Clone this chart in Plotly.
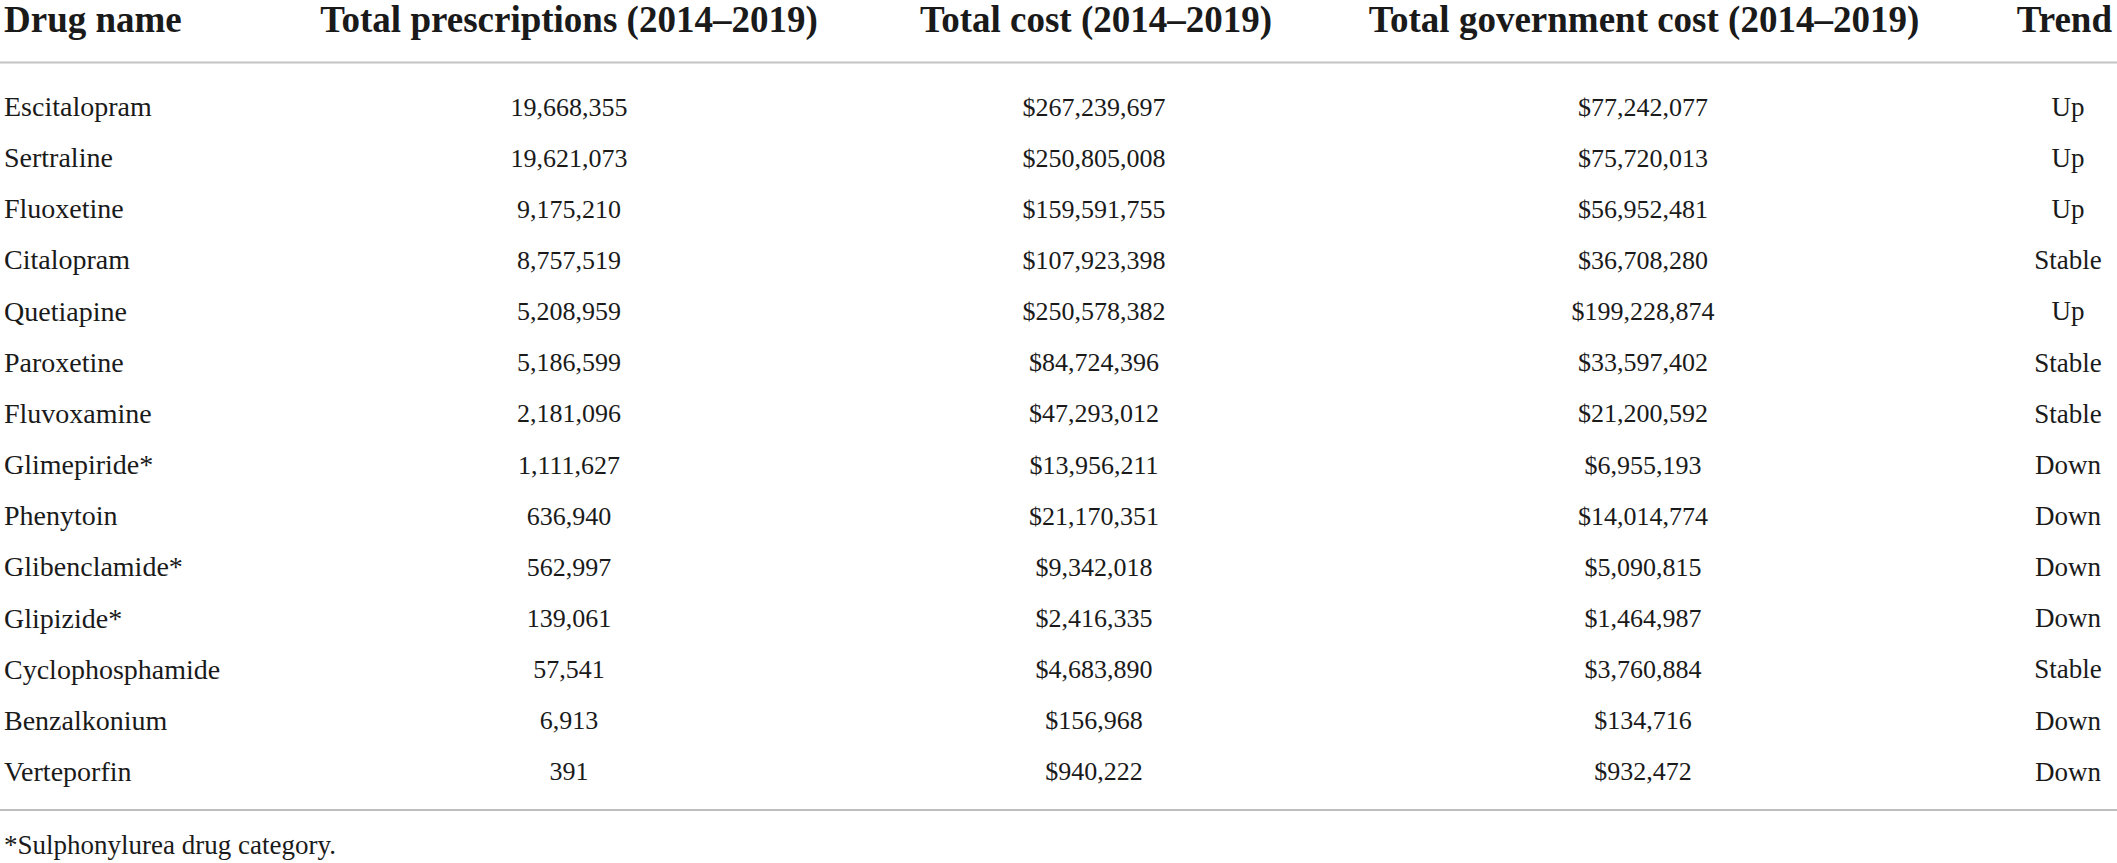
import plotly.graph_objects as go

# ---------------- data ----------------
headers = ["Drug name", "Total prescriptions (2014\u20132019)", "Total cost (2014\u20132019)",
           "Total government cost (2014\u20132019)", "Trend"]
drugs = ["Escitalopram", "Sertraline", "Fluoxetine", "Citalopram", "Quetiapine", "Paroxetine",
         "Fluvoxamine", "Glimepiride*", "Phenytoin", "Glibenclamide*", "Glipizide*",
         "Cyclophosphamide", "Benzalkonium", "Verteporfin"]
prescriptions = [19668355, 19621073, 9175210, 8757519, 5208959, 5186599, 2181096,
                 1111627, 636940, 562997, 139061, 57541, 6913, 391]
total_cost = [267239697, 250805008, 159591755, 107923398, 250578382, 84724396, 47293012,
              13956211, 21170351, 9342018, 2416335, 4683890, 156968, 940222]
gov_cost = [77242077, 75720013, 56952481, 36708280, 199228874, 33597402, 21200592,
            6955193, 14014774, 5090815, 1464987, 3760884, 134716, 932472]
trend = ["Up", "Up", "Up", "Stable", "Up", "Stable", "Stable", "Down", "Down", "Down",
         "Down", "Stable", "Down", "Down"]
footnote = "*Sulphonylurea drug category."

# ---------------- layout constants ----------------
W, H = 2117, 863
ROW0_PX, ROW_STEP_PX = 109, 51.15
def px_to_row(p):
    return (p - ROW0_PX) / ROW_STEP_PX

COL_X = [4, 569, 1094, 1643, 2068]
HEADER_X = [4, 569, 1096, 1644, 2112]
HEADER_Y = px_to_row(23)
TOP_LINE_Y = px_to_row(62.5)
BOT_LINE_Y = px_to_row(810)
FOOT_Y = px_to_row(847)

FONT = "Liberation Serif"
TXT = "#1a1a1a"
NAME_SIZE = 28
NUM_SIZE = 26
HEAD = 37

rows = list(range(len(drugs)))

fig = go.Figure()

# header
fig.add_trace(go.Scatter(
    x=HEADER_X, y=[HEADER_Y] * len(headers), mode="text",
    text=["<b>%s</b>" % h for h in headers],
    textposition=["middle right", "middle center", "middle center", "middle center", "middle left"],
    textfont=dict(family=FONT, size=HEAD, color=TXT),
    cliponaxis=False, hoverinfo="skip", showlegend=False))

# drug names (left aligned)
fig.add_trace(go.Scatter(
    x=[COL_X[0]] * len(drugs), y=rows, mode="text", text=drugs,
    textposition="middle right",
    textfont=dict(family=FONT, size=NAME_SIZE, color=TXT),
    cliponaxis=False, hoverinfo="skip", showlegend=False))

columns = [
    ["{:,}".format(v) for v in prescriptions],
    ["${:,}".format(v) for v in total_cost],
    ["${:,}".format(v) for v in gov_cost],
]
for cx, vals in zip(COL_X[1:4], columns):
    fig.add_trace(go.Scatter(
        x=[cx] * len(vals), y=rows, mode="text", text=vals,
        textposition="middle center",
        textfont=dict(family=FONT, size=NUM_SIZE, color=TXT),
        cliponaxis=False, hoverinfo="skip", showlegend=False))

fig.add_trace(go.Scatter(
    x=[COL_X[4]] * len(trend), y=rows, mode="text", text=trend,
    textposition="middle center",
    textfont=dict(family=FONT, size=NAME_SIZE - 1, color=TXT),
    cliponaxis=False, hoverinfo="skip", showlegend=False))

# footnote
fig.add_trace(go.Scatter(
    x=[COL_X[0]], y=[FOOT_Y], mode="text", text=[footnote],
    textposition="middle right",
    textfont=dict(family=FONT, size=27, color=TXT),
    cliponaxis=False, hoverinfo="skip", showlegend=False))

# rules
fig.add_shape(type="line", xref="paper", x0=0, x1=1, yref="y", y0=TOP_LINE_Y, y1=TOP_LINE_Y,
              line=dict(color="#c4c4c4", width=2))
fig.add_shape(type="line", xref="paper", x0=0, x1=1, yref="y", y0=BOT_LINE_Y, y1=BOT_LINE_Y,
              line=dict(color="#a8a8a8", width=1.5))

fig.update_layout(
    width=W, height=H,
    margin=dict(l=0, r=0, t=0, b=0),
    paper_bgcolor="white", plot_bgcolor="white",
    xaxis=dict(range=[0, W], visible=False, fixedrange=True),
    yaxis=dict(range=[px_to_row(H), px_to_row(0)], visible=False, fixedrange=True),
)

fig.write_html(
    "out.html",
    config={"displayModeBar": False},
    post_script="document.body.style.margin='0';document.body.style.overflow='hidden';",
)
